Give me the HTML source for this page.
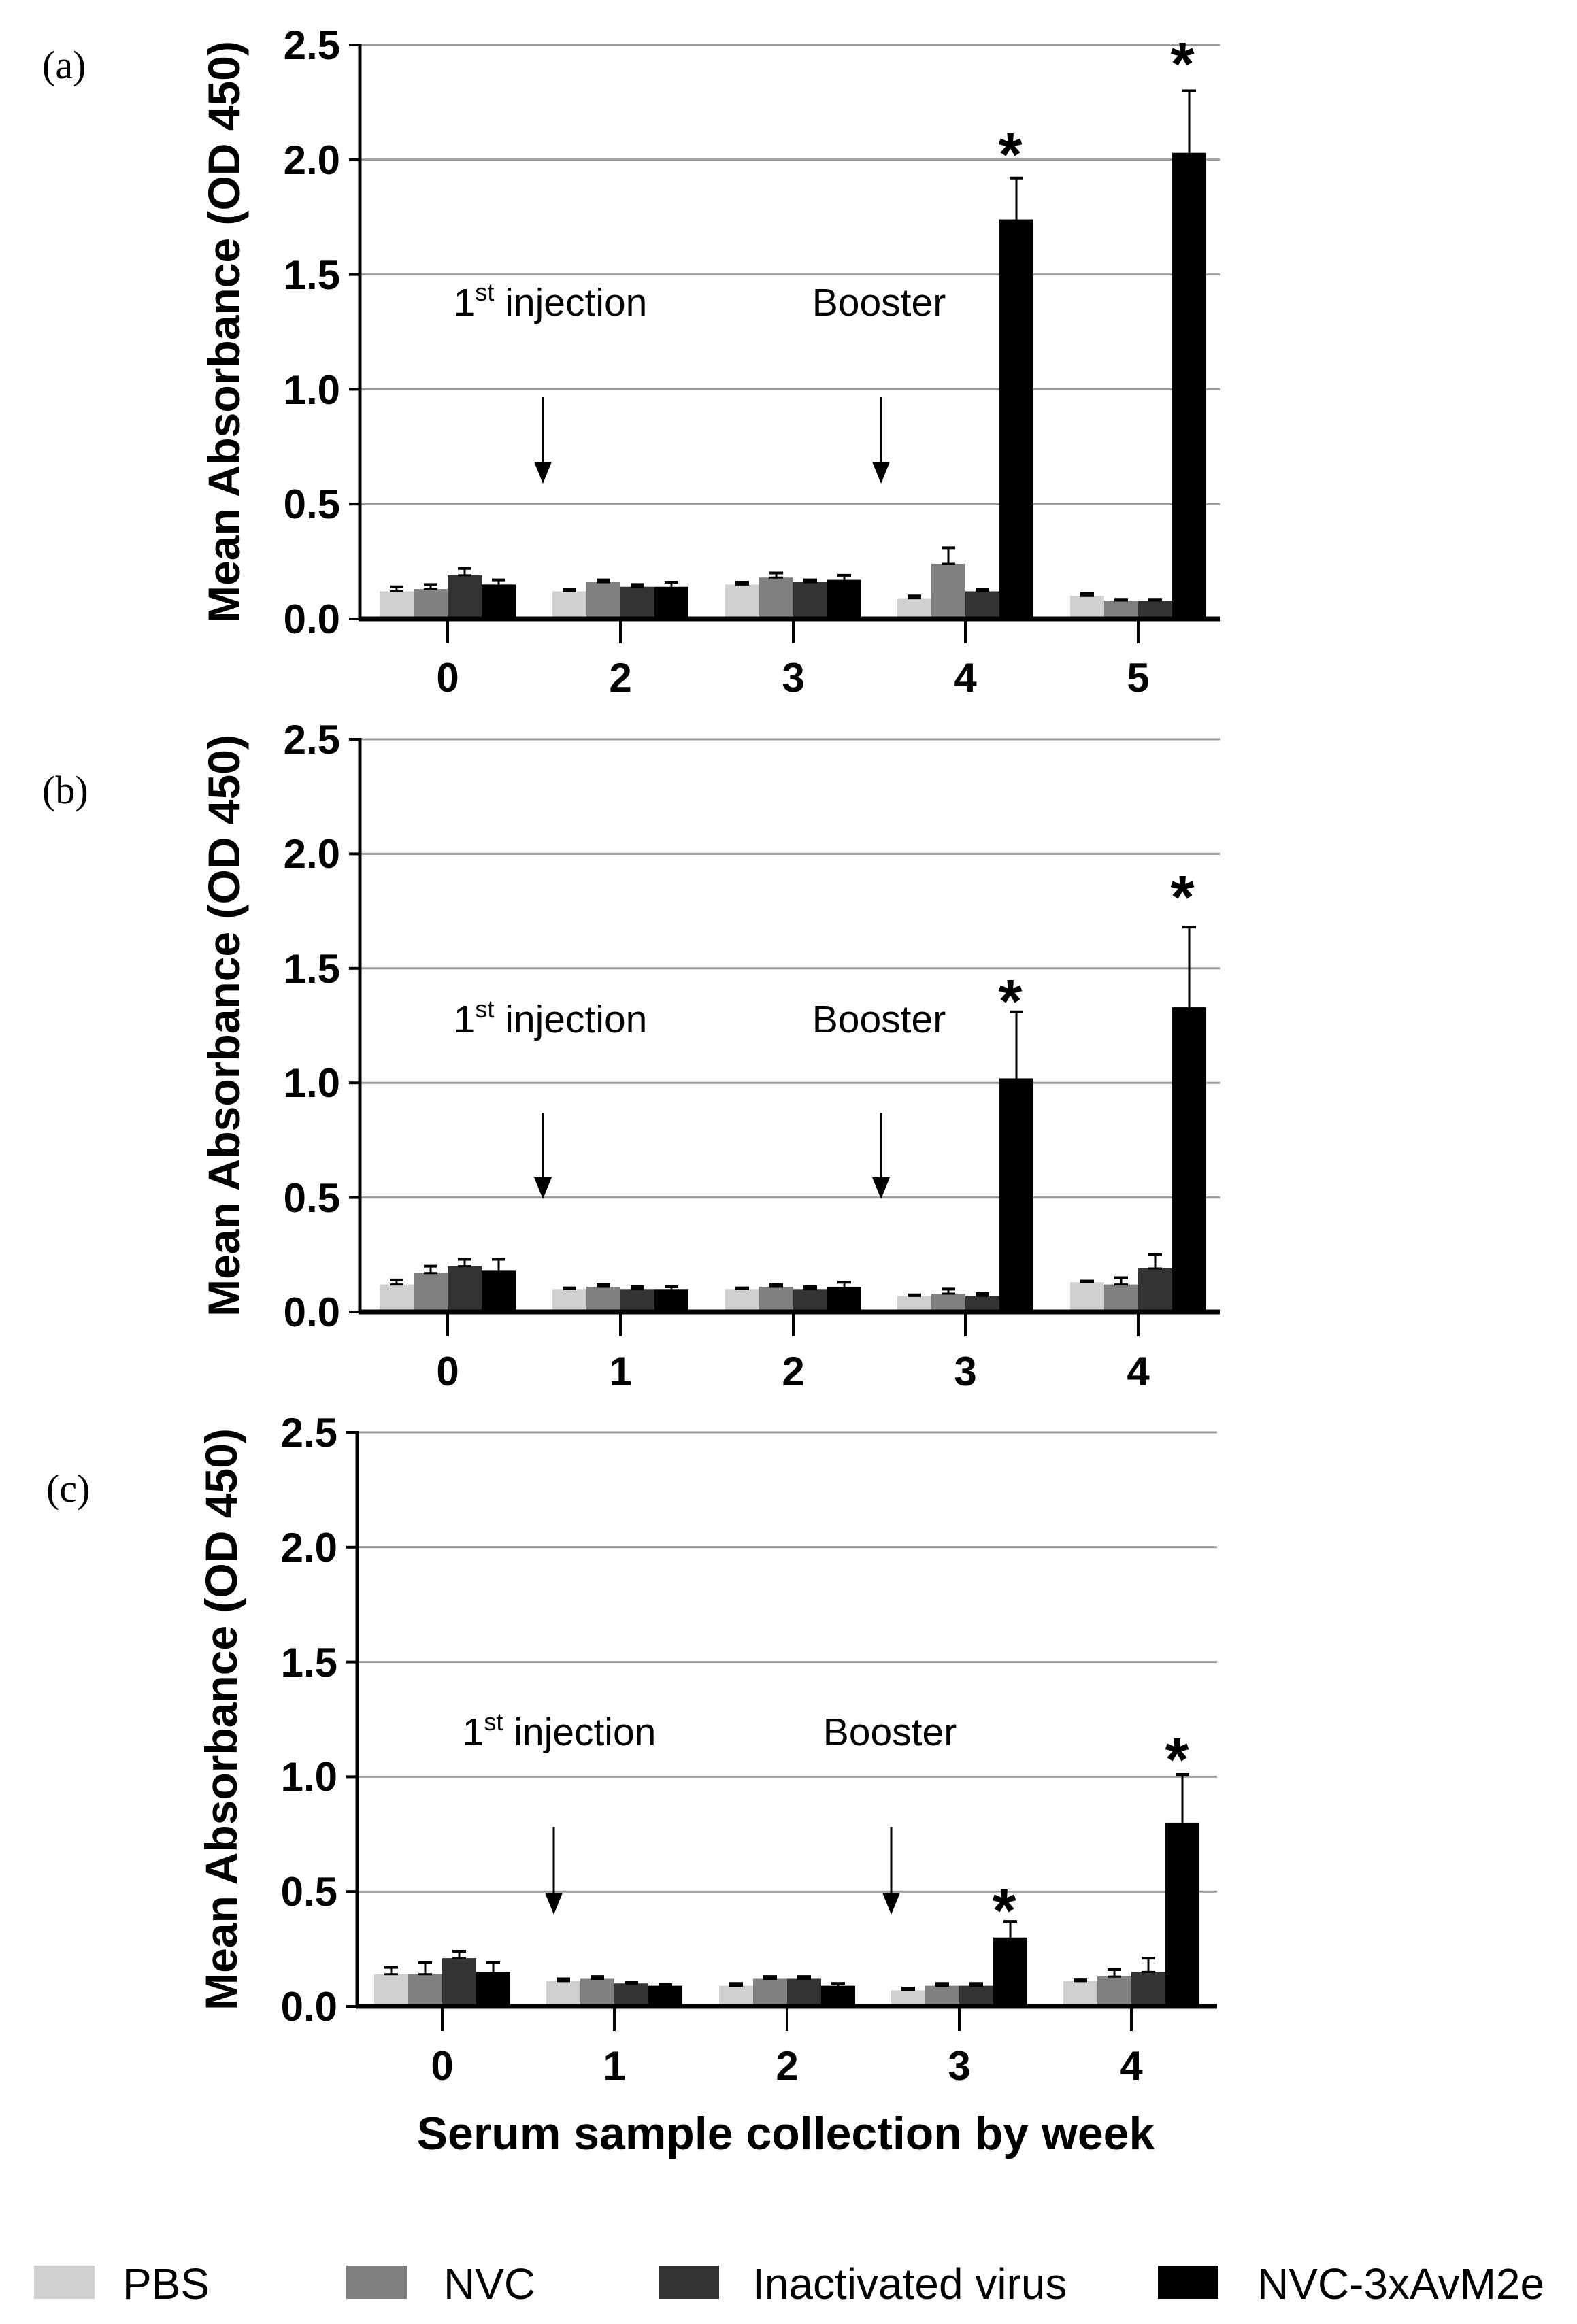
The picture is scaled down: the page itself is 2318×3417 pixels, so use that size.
<!DOCTYPE html>
<html><head><meta charset="utf-8"><style>
html,body{margin:0;padding:0;background:#fff;}
svg{display:block;}
text{font-family:"Liberation Sans",Arial,sans-serif;}
.tk{font-weight:bold;font-size:60px;}
.yt{font-weight:bold;font-size:66px;}
.an{font-size:57px;}
.pl{font-family:"Liberation Serif",serif;font-size:58px;}
.ast{font-weight:bold;font-size:90px;}
.lg{font-size:64px;}
</style></head><body>
<svg id="s" width="2318" height="3417" viewBox="0 0 2318 3417" xmlns="http://www.w3.org/2000/svg">
<rect width="2318" height="3417" fill="#fff"/>
<g id="g"></g>
<text class="pl" x="62" y="115">(a)</text>
<text class="pl" x="62" y="1181">(b)</text>
<text class="pl" x="68" y="2208">(c)</text>
<text class="yt" transform="translate(352,488) rotate(-90)" text-anchor="middle">Mean Absorbance (OD 450)</text>
<text class="yt" transform="translate(352,1508) rotate(-90)" text-anchor="middle">Mean Absorbance (OD 450)</text>
<text class="yt" transform="translate(348,2528) rotate(-90)" text-anchor="middle">Mean Absorbance (OD 450)</text>
<g class="tk" text-anchor="end">
<text x="500" y="87">2.5</text><text x="500" y="256">2.0</text><text x="500" y="425">1.5</text><text x="500" y="594">1.0</text><text x="500" y="762">0.5</text><text x="500" y="931">0.0</text>
<text x="500" y="1108">2.5</text><text x="500" y="1276">2.0</text><text x="500" y="1445">1.5</text><text x="500" y="1613">1.0</text><text x="500" y="1782">0.5</text><text x="500" y="1950">0.0</text>
<text x="496" y="2127">2.5</text><text x="496" y="2296">2.0</text><text x="496" y="2465">1.5</text><text x="496" y="2633">1.0</text><text x="496" y="2802">0.5</text><text x="496" y="2971">0.0</text>
</g>
<g class="tk" text-anchor="middle">
<text x="658" y="1017">0</text><text x="912" y="1017">2</text><text x="1166" y="1017">3</text><text x="1419" y="1017">4</text><text x="1673" y="1017">5</text>
<text x="658" y="2037">0</text><text x="912" y="2037">1</text><text x="1166" y="2037">2</text><text x="1419" y="2037">3</text><text x="1673" y="2037">4</text>
<text x="650" y="3058">0</text><text x="903" y="3058">1</text><text x="1157" y="3058">2</text><text x="1410" y="3058">3</text><text x="1663" y="3058">4</text>
</g>
<g class="an" text-anchor="middle">
<text x="809" y="464">1<tspan font-size="36" dy="-22">st</tspan><tspan dy="22"> injection</tspan></text>
<text x="1292" y="464">Booster</text>
<text x="809" y="1518">1<tspan font-size="36" dy="-22">st</tspan><tspan dy="22"> injection</tspan></text>
<text x="1292" y="1518">Booster</text>
<text x="822" y="2566">1<tspan font-size="36" dy="-22">st</tspan><tspan dy="22"> injection</tspan></text>
<text x="1308" y="2566">Booster</text>
</g>
<text x="1155" y="3160" text-anchor="middle" font-weight="bold" font-size="68">Serum sample collection by week</text>
<g class="ast" text-anchor="middle">
<text x="1485" y="258">*</text><text x="1738" y="125">*</text>
<text x="1485" y="1503">*</text><text x="1738" y="1350">*</text>
<text x="1476" y="2840">*</text><text x="1730" y="2618">*</text>
</g>
<rect x="50" y="3331" width="89" height="49" fill="#d0d0d0"/>
<text class="lg" x="180" y="3380">PBS</text>
<rect x="509" y="3331" width="89" height="49" fill="#808080"/>
<text class="lg" x="652" y="3380">NVC</text>
<rect x="968" y="3331" width="89" height="49" fill="#333"/>
<text class="lg" x="1106" y="3380">Inactivated virus</text>
<rect x="1702" y="3331" width="89" height="49" fill="#000"/>
<text class="lg" x="1848" y="3380">NVC-3xAvM2e</text>
</svg>
<script>
(function(){
var g=document.getElementById('g'),NS='http://www.w3.org/2000/svg';
function el(t,a){var e=document.createElementNS(NS,t);for(var k in a)e.setAttribute(k,a[k]);g.appendChild(e);return e;}
var cols=['#d0d0d0','#808080','#333333','#000000'];
var panels=[
{ax:529,y0:910,sc:337.6,right:1793,cx:[658,912,1166,1419,1673],
 v:[[.12,.13,.19,.15],[.12,.16,.14,.14],[.15,.18,.16,.17],[.09,.24,.12,1.74],[.10,.08,.08,2.03]],
 e:[[.02,.02,.03,.02],[.01,.01,.01,.02],[.01,.02,.01,.02],[.01,.07,.01,.18],[.01,.005,.005,.27]],
 arr:[[798,584,711],[1295,584,711]]},
{ax:529,y0:1929,sc:336.8,right:1793,cx:[658,912,1166,1419,1673],
 v:[[.12,.17,.20,.18],[.10,.11,.10,.10],[.10,.11,.10,.11],[.07,.08,.07,1.02],[.13,.12,.19,1.33]],
 e:[[.02,.03,.03,.05],[.005,.01,.01,.01],[.005,.01,.01,.02],[.005,.02,.01,.29],[.005,.03,.06,.35]],
 arr:[[798,1636,1763],[1295,1636,1763]]},
{ax:525,y0:2950,sc:337.6,right:1789,cx:[650,903,1157,1410,1663],
 v:[[.14,.14,.21,.15],[.11,.12,.10,.09],[.09,.12,.12,.09],[.07,.09,.09,.30],[.11,.13,.15,.80]],
 e:[[.03,.05,.03,.04],[.01,.01,.005,.005],[.01,.01,.01,.01],[.01,.01,.01,.07],[.005,.03,.06,.21]],
 arr:[[814,2686,2815],[1310,2686,2815]]}
];
panels.forEach(function(p){
 for(var i=1;i<=5;i++){var y=p.y0-i*0.5*p.sc;
  el('line',{x1:p.ax,x2:p.right,y1:y,y2:y,stroke:'#9a9a9a','stroke-width':3});
  el('line',{x1:p.ax-16,x2:p.ax,y1:y,y2:y,stroke:'#000','stroke-width':4});}
 el('line',{x1:p.ax-16,x2:p.ax,y1:p.y0,y2:p.y0,stroke:'#000','stroke-width':4});
 el('line',{x1:p.ax,x2:p.ax,y1:p.y0-2.5*p.sc-2,y2:p.y0,stroke:'#000','stroke-width':5});
 p.cx.forEach(function(c,j){
  for(var k=0;k<4;k++){var x=c-100+k*50,h=p.v[j][k]*p.sc,e=p.e[j][k]*p.sc;
   el('line',{x1:x+25,x2:x+25,y1:p.y0-h-e,y2:p.y0-h,stroke:'#000','stroke-width':3});
   el('line',{x1:x+15,x2:x+35,y1:p.y0-h-e,y2:p.y0-h-e,stroke:'#000','stroke-width':4});
   el('rect',{x:x,y:p.y0-h,width:50,height:h,fill:cols[k]});
   if(k<3)el('line',{x1:x+15,x2:x+35,y1:p.y0-h,y2:p.y0-h,stroke:'#000','stroke-width':3});
  }
  el('line',{x1:c,x2:c,y1:p.y0,y2:p.y0+36,stroke:'#000','stroke-width':4});
 });
 el('line',{x1:p.ax-2,x2:p.right,y1:p.y0,y2:p.y0,stroke:'#000','stroke-width':7});
 p.arr.forEach(function(a){
  el('line',{x1:a[0],x2:a[0],y1:a[1],y2:a[2]-30,stroke:'#000','stroke-width':3});
  el('polygon',{points:(a[0]-13)+','+(a[2]-32)+' '+(a[0]+13)+','+(a[2]-32)+' '+a[0]+','+a[2],fill:'#000'});
 });
});
})();
</script>
</body></html>
